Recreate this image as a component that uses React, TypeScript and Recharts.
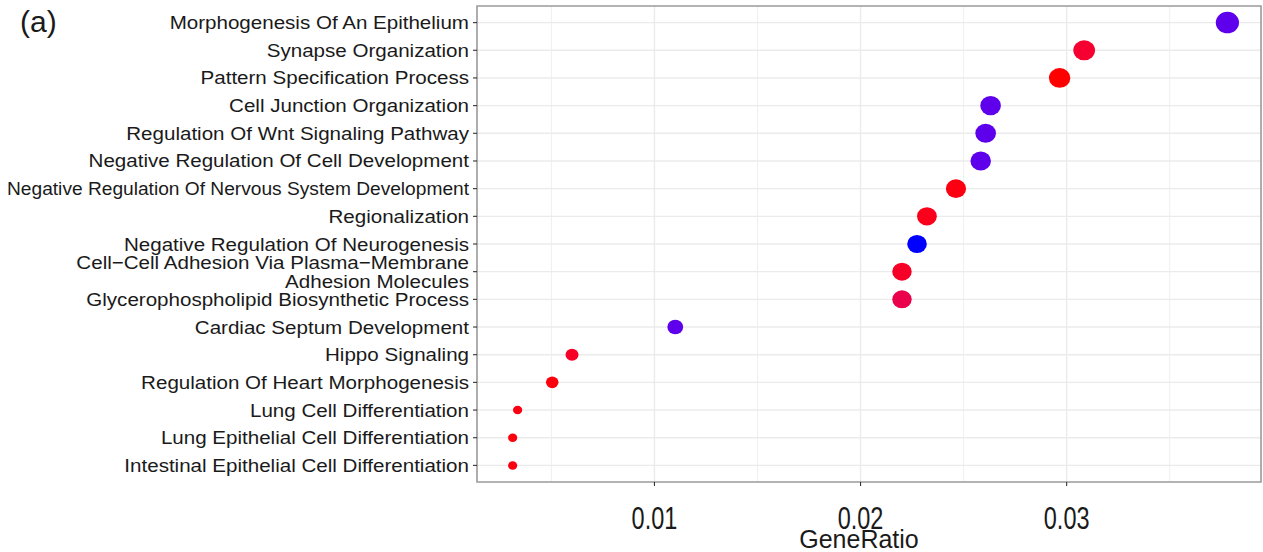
import React from "react";
import {
  ScatterChart,
  Scatter,
  XAxis,
  YAxis,
  CartesianGrid,
  ReferenceArea,
} from "recharts";

// ---------------- data ----------------
const categories: string[] = [
  "Morphogenesis Of An Epithelium",
  "Synapse Organization",
  "Pattern Specification Process",
  "Cell Junction Organization",
  "Regulation Of Wnt Signaling Pathway",
  "Negative Regulation Of Cell Development",
  "Negative Regulation Of Nervous System Development",
  "Regionalization",
  "Negative Regulation Of Neurogenesis",
  "Cell\u2212Cell Adhesion Via Plasma\u2212Membrane\nAdhesion Molecules",
  "Glycerophospholipid Biosynthetic Process",
  "Cardiac Septum Development",
  "Hippo Signaling",
  "Regulation Of Heart Morphogenesis",
  "Lung Cell Differentiation",
  "Lung Epithelial Cell Differentiation",
  "Intestinal Epithelial Cell Differentiation",
];

const geneRatio: number[] = [
  0.0378, 0.03085, 0.02966, 0.02631, 0.02607, 0.02583, 0.02463, 0.02322,
  0.02274, 0.02201, 0.02201, 0.01101, 0.006, 0.00504, 0.00336, 0.00312,
  0.00312,
];

const geneCount: number[] = [
  59, 48, 46, 41, 41, 40, 38, 36, 35, 34, 34, 17, 9, 8, 5, 5, 5,
];

const pAdjust: number[] = [
  0.0102, 0.0022, 0.001, 0.0102, 0.0102, 0.0102, 0.0013, 0.0015, 0.011,
  0.0019, 0.0033, 0.0102, 0.0019, 0.0012, 0.0013, 0.0012, 0.0013,
];

const xTicks: number[] = [0.01, 0.02, 0.03];
const xMinorTicks: number[] = [0.005, 0.015, 0.025, 0.035];
const xDomain: [number, number] = [0.00139, 0.03943];

// ---------------- scales ----------------
const FONT = "'Liberation Sans', Arial, Helvetica, sans-serif";
const Y_FONT_SIZE = 18.7;
const Y_SCALE_X = 1.1;
const LOW_COLOR = "#FF0000";
const HIGH_COLOR = "#0000FF";
const D_MIN = 8.5;
const D_MAX = 21.5;

const cMin = Math.min(...geneCount);
const cMax = Math.max(...geneCount);
const pMin = Math.min(...pAdjust);
const pMax = Math.max(...pAdjust);

function radiusOf(count: number): number {
  const t = Math.sqrt((count - cMin) / (cMax - cMin));
  return (D_MIN + (D_MAX - D_MIN) * t) / 2;
}

function hexToRgb(h: string): number[] {
  const v = parseInt(h.slice(1), 16);
  return [(v >> 16) & 255, (v >> 8) & 255, v & 255];
}
function toLin(c: number) {
  c /= 255;
  return c <= 0.04045 ? c / 12.92 : Math.pow((c + 0.055) / 1.055, 2.4);
}
function fromLin(c: number) {
  const v = c <= 0.0031308 ? 12.92 * c : 1.055 * Math.pow(c, 1 / 2.4) - 0.055;
  return Math.round(Math.max(0, Math.min(1, v)) * 255);
}
const XN = 0.95047, YN = 1, ZN = 1.08883;
function rgbToLab(rgb: number[]): number[] {
  const [r, g, b] = rgb.map(toLin);
  const X = 0.4124 * r + 0.3576 * g + 0.1805 * b;
  const Y = 0.2126 * r + 0.7152 * g + 0.0722 * b;
  const Z = 0.0193 * r + 0.1192 * g + 0.9505 * b;
  const f = (t: number) => (t > 0.008856 ? Math.cbrt(t) : 7.787 * t + 16 / 116);
  const fx = f(X / XN), fy = f(Y / YN), fz = f(Z / ZN);
  return [116 * fy - 16, 500 * (fx - fy), 200 * (fy - fz)];
}
function labToRgb(lab: number[]): number[] {
  const [L, a, b] = lab;
  const fy = (L + 16) / 116;
  const fx = fy + a / 500;
  const fz = fy - b / 200;
  const inv = (t: number) => (t ** 3 > 0.008856 ? t ** 3 : (t - 16 / 116) / 7.787);
  const X = XN * inv(fx), Y = YN * inv(fy), Z = ZN * inv(fz);
  const r = 3.2406 * X - 1.5372 * Y - 0.4986 * Z;
  const g = -0.9689 * X + 1.8758 * Y + 0.0415 * Z;
  const bb = 0.0557 * X - 0.204 * Y + 1.057 * Z;
  return [fromLin(r), fromLin(g), fromLin(bb)];
}
const LAB_LOW = rgbToLab(hexToRgb(LOW_COLOR));
const LAB_HIGH = rgbToLab(hexToRgb(HIGH_COLOR));
function colorOf(p: number): string {
  const t = (p - pMin) / (pMax - pMin);
  const lab = LAB_LOW.map((v, i) => v + (LAB_HIGH[i] - v) * t);
  const [r, g, b] = labToRgb(lab);
  return `rgb(${r},${g},${b})`;
}

let measureCtx: CanvasRenderingContext2D | null = null;
function textWidth(s: string, size: number): number {
  if (typeof document === "undefined") return s.length * size * 0.5;
  if (!measureCtx) {
    const c = document.createElement("canvas");
    measureCtx = c.getContext("2d");
  }
  if (!measureCtx) return s.length * size * 0.5;
  measureCtx.font = `${size}px ${FONT}`;
  return measureCtx.measureText(s).width;
}

const data = categories.map((label, i) => ({
  label,
  pos: i + 1,
  ratio: geneRatio[i],
  count: geneCount[i],
  p: pAdjust[i],
}));
const yTicks = categories.map((_, i) => i + 1);

// ---------------- renderers ----------------
function Dot(props: any) {
  const { cx, cy, payload } = props;
  if (cx == null || cy == null) return null;
  const r = radiusOf(payload.count);
  return <ellipse cx={cx} cy={cy} rx={r * 1.08} ry={r} fill={colorOf(payload.p)} />;
}

function YTick(props: any) {
  const { x, y, payload } = props;
  const label = categories[payload.value - 1] || "";
  const lines = label.split("\n");
  const avail = (x - 7) / Y_SCALE_X;
  return (
    <g transform={`translate(${x},${y}) scale(${Y_SCALE_X},1)`}>
      {lines.map((l, i) => {
        const w = textWidth(l, Y_FONT_SIZE);
        const fit = w > avail ? { textLength: avail, lengthAdjust: "spacingAndGlyphs" as any } : {};
        return (
          <text
            key={i}
            x={0}
            y={lines.length === 1 ? 6.5 : i === 0 ? -2.3 : 16.3}
            textAnchor="end"
            fontSize={Y_FONT_SIZE}
            fontFamily={FONT}
            fill="#1a1a1a"
            {...fit}
          >
            {l}
          </text>
        );
      })}
    </g>
  );
}

function XTick(props: any) {
  const { x, y, payload } = props;
  return (
    <g transform={`translate(${x},${y}) scale(1,1.3)`}>
      <text textAnchor="middle" y={33.4} fontSize={23.5} fontFamily={FONT} fill="#1a1a1a">
        {String(payload.value)}
      </text>
    </g>
  );
}

function XTitle(props: any) {
  const vb = props.viewBox || { x: 0, y: 0, width: 0, height: 0 };
  const cx = vb.x + vb.width / 2 - 10;
  return (
    <g transform={`translate(${cx},${vb.y + 66}) scale(1,1.05)`}>
      <text textAnchor="middle" fontSize={25} fontFamily={FONT} fill="#1a1a1a">
        GeneRatio
      </text>
    </g>
  );
}

export default function App() {
  return (
    <div style={{ position: "relative", width: 1263, height: 552, background: "#fff" }}>
      <style>{"body{margin:0;background:#fff}"}</style>
      <ScatterChart
        width={1263}
        height={552}
        margin={{ top: 6, right: 2, left: 0, bottom: 0 }}
      >
        <CartesianGrid
          stroke="#EBEBEB"
          strokeWidth={0.8}
          horizontal={false}
          verticalValues={xMinorTicks}
        />
        <CartesianGrid
          stroke="#EBEBEB"
          strokeWidth={1.4}
          horizontalValues={yTicks}
          verticalValues={xTicks}
        />
        <XAxis
          type="number"
          dataKey="ratio"
          domain={xDomain}
          ticks={xTicks}
          allowDataOverflow
          axisLine={false}
          tickSize={4}
          tickMargin={0}
          tickLine={{ stroke: "#333", strokeWidth: 1.1 }}
          tick={<XTick />}
          height={70}
          label={<XTitle />}
        />
        <YAxis
          type="number"
          dataKey="pos"
          domain={[0.4, categories.length + 0.6]}
          ticks={yTicks}
          reversed
          allowDataOverflow
          interval={0}
          axisLine={false}
          tickSize={4}
          tickMargin={4}
          tickLine={{ stroke: "#333", strokeWidth: 1.1 }}
          tick={<YTick />}
          width={477}
        />
        <ReferenceArea
          x1={xDomain[0]}
          x2={xDomain[1]}
          y1={0.4}
          y2={categories.length + 0.6}
          fill="none"
          fillOpacity={0}
          stroke="#9a9a9a"
          strokeWidth={1.6}
          ifOverflow="visible"
        />
        <Scatter data={data} shape={<Dot />} isAnimationActive={false} />
      </ScatterChart>
      <svg
        width={1263}
        height={552}
        style={{ position: "absolute", left: 0, top: 0, pointerEvents: "none" }}
      >
        <text x={20} y={32} fontSize={30} fontFamily={FONT} fill="#1a1a1a">
          (a)
        </text>
      </svg>
    </div>
  );
}
